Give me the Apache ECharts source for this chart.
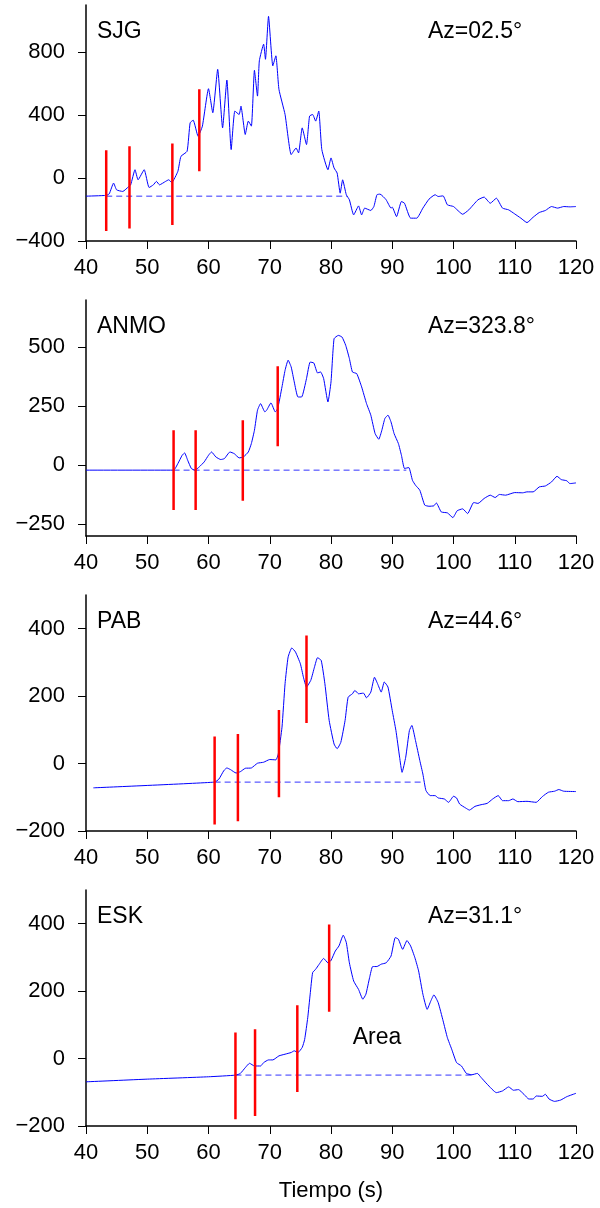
<!DOCTYPE html>
<html>
<head>
<meta charset="utf-8">
<script src="https://cdn.jsdelivr.net/npm/echarts@6/dist/echarts.min.js"></script>
<style>
  html, body { margin: 0; padding: 0; background: #fff; }
  #chart { width: 600px; height: 1208px; }
</style>
</head>
<body>
<div id="chart"></div>
<script>
// estaciones y azimut
const stations = ['SJG', 'ANMO', 'PAB', 'ESK'];
const azimuths = ['Az=02.5°', 'Az=323.8°', 'Az=44.6°', 'Az=31.1°'];

// rangos de cada eje y y sus marcas
const yMin = [-400, -300, -200, -200];
const yMax = [1100, 700, 500, 500];
const yTicks = [
  [-400, 0, 400, 800],
  [-250, 0, 250, 500],
  [-200, 0, 200, 400],
  [-200, 0, 200, 400],
];

// sismogramas [tiempo, amplitud]
const sjgWave = [[40,-115],[43.3,-110],[43.8,-100],[44.5,-32],[45,-75],[46,-85],[47,-53],[47.3,-43],[48,53],[48.5,-11],[49.5,53],[50.3,-60],[51,-43],[51.5,-21],[52,-43],[53,-21],[53.5,-11],[54,-28],[55,43],[55.5,138],[56.5,170],[57,351],[57.5,368],[58.3,266],[59,330],[60,568],[60.7,415],[61.5,691],[62.3,319],[63,623],[63.7,181],[64.3,426],[65,404],[65.3,457],[66,277],[66.5,362],[67,330],[67.5,685],[68,521],[68.3,745],[69,851],[69.3,755],[69.8,1028],[70.5,713],[71,777],[71.5,564],[72.5,404],[73.5,149],[74.3,191],[74.7,160],[75.3,319],[76,213],[76.5,394],[77,404],[77.5,362],[78,426],[78.5,181],[79.5,53],[80,128],[80.5,64],[81,32],[81.5,-96],[81.9,-11],[82.5,-106],[83,-138],[83.7,-234],[84.5,-177],[85,-234],[85.5,-191],[86.5,-206],[87,-181],[87.5,-106],[88,-102],[89,-138],[89.8,-191],[90,-185],[90.7,-245],[91.5,-149],[92,-160],[93,-255],[94,-255],[95,-191],[96,-134],[97,-106],[97.5,-117],[98.3,-113],[99,-170],[100,-181],[101.5,-230],[102.5,-202],[104,-138],[105,-121],[106,-160],[107,-128],[108,-191],[109,-202],[110,-228],[111,-255],[112,-283],[113,-249],[114,-219],[115,-206],[116,-181],[117,-191],[118,-181],[119,-183],[120,-181]];

const anmoWave = [[40,-21],[54.3,-21],[55,7],[55.7,42],[56.1,52],[56.6,21],[57.2,-14],[57.8,-21],[58.5,-7],[59.3,14],[60,42],[60.5,56],[61.2,35],[62,24],[62.6,28],[63.5,56],[64.2,49],[65,31],[65.7,35],[66.5,56],[67,92],[67.5,148],[68,233],[68.5,261],[69.2,226],[69.5,233],[70.2,264],[70.9,226],[71.3,240],[72,332],[72.5,402],[73,445],[73.5,416],[74,353],[74.6,289],[75.2,289],[76,367],[76.6,437],[77.2,433],[77.8,391],[78.3,395],[78.8,367],[79.5,268],[80,353],[80.5,536],[81.2,550],[81.8,543],[82.4,508],[83,452],[83.5,395],[84.2,388],[85,332],[85.8,261],[86.5,212],[87.2,134],[87.8,110],[88.3,148],[88.8,198],[89.3,212],[89.8,183],[90.3,134],[91,92],[91.5,42],[92,-14],[92.7,-10],[93.3,-64],[93.8,-85],[94.5,-106],[95.3,-169],[96,-174],[96.8,-172],[97.2,-160],[98,-198],[99,-202],[99.9,-222],[100.6,-193],[101.5,-185],[102.3,-205],[103.3,-158],[104,-162],[105,-141],[106,-127],[106.8,-137],[107.5,-124],[108.5,-127],[110,-116],[111.3,-117],[112,-113],[113,-113],[114,-92],[115,-88],[116,-71],[116.9,-47],[117.6,-61],[118.5,-66],[119,-78],[120,-75]];

const pabWave = [[41.2,-72],[61,-55],[61.7,-46],[62.5,-21],[63,-13],[63.6,-18],[64.5,-28],[65.2,-24],[66,-14],[67,-13],[68,1],[69,4],[70,12],[71,11],[71.4,29],[72,108],[72.5,237],[73,316],[73.6,343],[74.2,331],[75,296],[75.5,256],[76,227],[76.7,247],[77.3,286],[77.8,314],[78.4,306],[79,237],[79.7,128],[80.5,58],[81,44],[81.6,63],[82.3,128],[82.8,197],[83.5,207],[83.9,217],[84.5,207],[85.3,209],[85.8,195],[86.5,212],[87.1,256],[87.6,237],[88.2,212],[88.7,242],[89.3,227],[90,157],[90.6,98],[91.2,19],[91.6,-26],[92.2,19],[92.8,98],[93.2,113],[93.8,68],[94.5,9],[95,-31],[95.5,-80],[96.2,-95],[97,-95],[97.5,-102],[98.5,-105],[99.2,-115],[100,-97],[100.5,-102],[101,-120],[102,-132],[102.6,-138],[103.5,-127],[104.5,-122],[105.5,-118],[106.4,-105],[107.3,-95],[108,-110],[109,-110],[109.7,-105],[110.5,-113],[112,-112],[113.5,-115],[114.5,-98],[115.5,-85],[116.5,-82],[117.2,-77],[118,-82],[120,-83]];

const eskWave = [[40,-69],[50,-61],[60,-54],[64.5,-49],[65.2,-44],[66,-27],[66.7,-14],[67.5,-22],[68.5,-22],[69,-12],[69.8,-4],[70.5,-4],[71.5,8],[72.5,13],[73.5,18],[74,23],[74.6,18],[75.3,33],[75.7,57],[76.2,121],[76.6,191],[77,255],[77.5,265],[78,278],[78.8,297],[79.5,284],[80,291],[80.7,319],[81.3,334],[82,366],[82.5,344],[83,284],[83.7,230],[84.5,205],[85.2,176],[85.7,191],[86.3,240],[86.8,273],[87.5,273],[88.2,280],[89,284],[89.8,304],[90.5,359],[91,354],[91.7,324],[92.4,350],[93,334],[93.7,299],[94.3,260],[95,191],[95.7,146],[96.3,171],[96.8,189],[97.5,166],[98.3,112],[99,62],[99.7,28],[100.5,-12],[101.3,-22],[102.1,-44],[103,-48],[103.9,-44],[104.5,-56],[105.5,-76],[107,-101],[108,-96],[109,-84],[109.8,-94],[110.6,-92],[111.5,-106],[112.3,-120],[113,-120],[113.5,-111],[114.5,-112],[115,-106],[115.6,-120],[116.5,-127],[117.5,-123],[118.5,-113],[120,-103]];

const waves = [sjgWave, anmoWave, pabWave, eskWave];

// lecturas (lineas rojas): tiempo, extremo superior, extremo inferior
const pickTimes = [[43.3, 47.1, 54.1, 58.5], [54.3, 57.9, 65.6, 71.3], [61.0, 64.8, 71.5, 76.0], [64.4, 67.6, 74.5, 79.7]];
const pickTop = [[177, 202, 219, 564], [148, 148, 190, 419], [80, 88, 159, 380], [77, 87, 158, 398]];
const pickBottom = [[-336, -321, -298, 43], [-190, -190, -151, 80], [-181, -171, -100, 120], [-180, -170, -99, 139]];

// linea base discontinua
const baseLevel = [-115, -21, -55, -49];
const baseStart = [43.3, 54.3, 61.0, 64.4];
const baseEnd = [82.6, 92.3, 95.0, 103.0];

// etiqueta del area (panel ESK)
const areaLabel = [[87.5, 62]];

const FONT = '"Liberation Sans", Arial, sans-serif';
const gridTops = [5, 300, 595, 890];
const gridLeft = 86;
const gridWidth = 490;
const gridHeight = 236;

const minus = (v) => (v < 0 ? '\u2212' + Math.abs(v) : String(v));

const grids = [];
const xAxes = [];
const yAxes = [];
const series = [];
const graphics = [];

for (let i = 0; i < 4; i++) {
  grids.push({ left: gridLeft, width: gridWidth, top: gridTops[i], height: gridHeight, outerBoundsMode: 'none' });

  xAxes.push({
    type: 'value',
    gridIndex: i,
    min: 40,
    max: 120,
    interval: 10,
    axisLine: { onZero: false, lineStyle: { color: '#000', width: 1.5 } },
    axisTick: { length: 8, lineStyle: { color: '#000', width: 1 } },
    axisLabel: { color: '#000', fontSize: 22, fontFamily: FONT, margin: 16 },
    splitLine: { show: false },
    name: i === 3 ? 'Tiempo (s)' : '',
    nameLocation: 'middle',
    nameGap: 54,
    nameTextStyle: { color: '#000', fontSize: 22, fontFamily: FONT },
  });

  yAxes.push({
    type: 'value',
    gridIndex: i,
    min: yMin[i],
    max: yMax[i],
    axisLine: { show: true, onZero: false, lineStyle: { color: '#000', width: 1.5 } },
    axisTick: { length: 8, customValues: yTicks[i], lineStyle: { color: '#000', width: 1 } },
    axisLabel: { color: '#000', fontSize: 22, fontFamily: FONT, margin: 21, customValues: yTicks[i], formatter: minus },
    splitLine: { show: false },
  });

  series.push({
    type: 'line',
    xAxisIndex: i,
    yAxisIndex: i,
    data: waves[i],
    showSymbol: false,
    smooth: 0.15,
    lineStyle: { color: '#0000ff', width: 1 },
    z: 3,
  });

  series.push({
    type: 'line',
    xAxisIndex: i,
    yAxisIndex: i,
    data: [[baseStart[i], baseLevel[i]], [baseEnd[i], baseLevel[i]]],
    showSymbol: false,
    lineStyle: { color: '#3333ff', width: 1, type: [6, 4] },
    z: 2,
  });

  for (let k = 0; k < pickTimes[i].length; k++) {
    series.push({
      type: 'line',
      xAxisIndex: i,
      yAxisIndex: i,
      data: [[pickTimes[i][k], pickTop[i][k]], [pickTimes[i][k], pickBottom[i][k]]],
      showSymbol: false,
      lineStyle: { color: '#ff0000', width: 2.5 },
      z: 4,
    });
  }

  graphics.push({
    type: 'text',
    left: gridLeft + 11,
    top: gridTops[i] + 15,
    style: { text: stations[i], fill: '#000', font: '23px ' + FONT },
  });
  graphics.push({
    type: 'text',
    left: 428,
    top: gridTops[i] + 15,
    style: { text: azimuths[i], fill: '#000', font: '23px ' + FONT },
  });
}

series.push({
  type: 'scatter',
  xAxisIndex: 3,
  yAxisIndex: 3,
  data: areaLabel,
  symbolSize: 0,
  itemStyle: { opacity: 1 },
  label: { show: true, position: 'inside', formatter: 'Area', color: '#000', fontSize: 23, fontFamily: FONT },
});

const chart = echarts.init(document.getElementById('chart'));
chart.setOption({
  animation: false,
  backgroundColor: '#fff',
  grid: grids,
  xAxis: xAxes,
  yAxis: yAxes,
  series: series,
  graphic: graphics,
});
</script>
</body>
</html>
